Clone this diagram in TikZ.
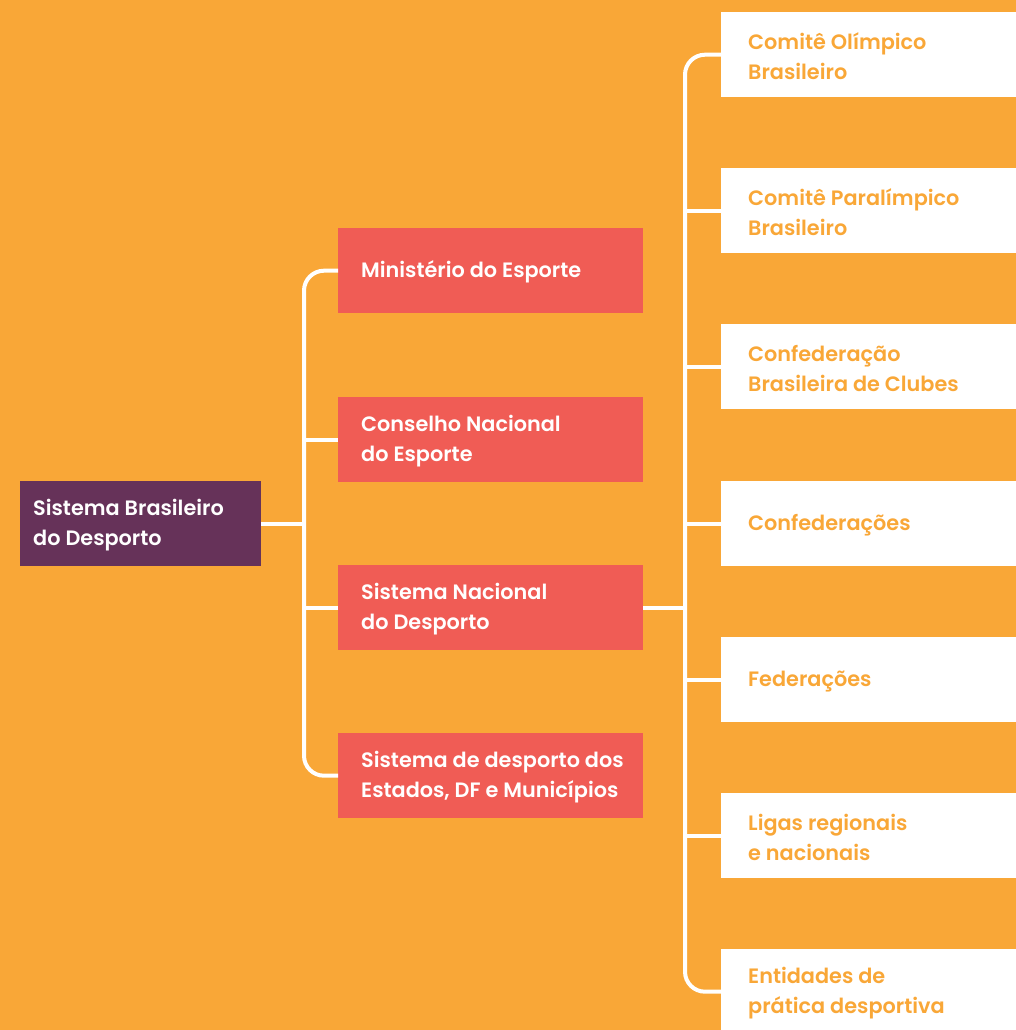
\documentclass[tikz,border=0pt]{standalone}
\usepackage{fontspec}
\setmainfont{Poppins}[UprightFont=* SemiBold]
\definecolor{bgor}{HTML}{F9A737}
\definecolor{rootc}{HTML}{663259}
\definecolor{redc}{HTML}{F05C55}
\tikzset{
  rootbox/.style={fill=rootc, draw=none, minimum width=241pt, minimum height=85pt, anchor=north west, inner sep=0pt},
  redbox/.style={fill=redc, draw=none, minimum width=305pt, minimum height=85pt, anchor=north west, inner sep=0pt},
  whitebox/.style={fill=white, draw=none, minimum width=295pt, minimum height=85pt, anchor=north west, inner sep=0pt},
  ltext/.style={anchor=west, align=left, inner sep=0pt, text=white, font=\fontsize{20.8}{30}\selectfont},
  otext/.style={anchor=west, align=left, inner sep=0pt, text=bgor, font=\fontsize{20.8}{30}\selectfont},
  conn/.style={draw=white, line width=4pt, rounded corners=20pt}
}
\begin{document}
\begin{tikzpicture}[x=1pt,y=-1pt]
\fill[bgor] (0,0) rectangle (1016,1030);
\useasboundingbox (0,0) rectangle (1016,1030);
\coordinate (lbus) at (304,0);
\coordinate (rbus) at (685,0);
% root
\node[rootbox] (root) at (20,481) {};
\node[ltext] (roott) at ([xshift=13pt,yshift=-1.5pt]root.west) {Sistema Brasileiro\\do Desporto};
% red boxes
\node[redbox] (ms) at (338,228) {};
\node[ltext] (mst) at ([xshift=23pt,yshift=-1.5pt]ms.west) {Ministério do Esporte};
\node[redbox] (cn) at (338,397) {};
\node[ltext] (cnt) at ([xshift=23pt,yshift=-1.5pt]cn.west) {Conselho Nacional\\do Esporte};
\node[redbox] (sn) at (338,565) {};
\node[ltext] (snt) at ([xshift=23pt,yshift=-1.5pt]sn.west) {Sistema Nacional\\do Desporto};
\node[redbox] (sd) at (338,733) {};
\node[ltext] (sdt) at ([xshift=23pt,yshift=-1.5pt]sd.west) {Sistema de desporto dos\\Estados, DF e Municípios};
% white boxes
\node[whitebox] (w1) at (721,12) {};
\node[otext] (w1t) at ([xshift=27pt,yshift=-1.5pt]w1.west) {Comitê Olímpico\\Brasileiro};
\node[whitebox] (w2) at (721,168) {};
\node[otext] (w2t) at ([xshift=27pt,yshift=-1.5pt]w2.west) {Comitê Paralímpico\\Brasileiro};
\node[whitebox] (w3) at (721,324) {};
\node[otext] (w3t) at ([xshift=27pt,yshift=-1.5pt]w3.west) {Confederação\\Brasileira de Clubes};
\node[whitebox] (w4) at (721,481) {};
\node[otext] (w4t) at ([xshift=27pt,yshift=-1.5pt]w4.west) {Confederações};
\node[whitebox] (w5) at (721,637) {};
\node[otext] (w5t) at ([xshift=27pt,yshift=-1.5pt]w5.west) {Federações};
\node[whitebox] (w6) at (721,793) {};
\node[otext] (w6t) at ([xshift=27pt,yshift=-1.5pt]w6.west) {Ligas regionais\\e nacionais};
\node[whitebox] (w7) at (721,949) {};
\node[otext] (w7t) at ([xshift=27pt,yshift=-1.5pt]w7.west) {Entidades de\\prática desportiva};
% left tree
\draw[conn] (ms.west) -- (ms.west -| lbus) -- (sd.west -| lbus) -- (sd.west);
\draw[conn] (root.east) -- (root.east -| lbus);
\draw[conn] (cn.west) -- (cn.west -| lbus);
\draw[conn] (sn.west) -- (sn.west -| lbus);
% right tree
\draw[conn] (w1.west) -- (w1.west -| rbus) -- (w7.west -| rbus) -- (w7.west);
\draw[conn] (sn.east) -- (sn.east -| rbus);
\draw[conn] (w2.west) -- (w2.west -| rbus);
\draw[conn] (w3.west) -- (w3.west -| rbus);
\draw[conn] (w4.west) -- (w4.west -| rbus);
\draw[conn] (w5.west) -- (w5.west -| rbus);
\draw[conn] (w6.west) -- (w6.west -| rbus);
\end{tikzpicture}
\end{document}
